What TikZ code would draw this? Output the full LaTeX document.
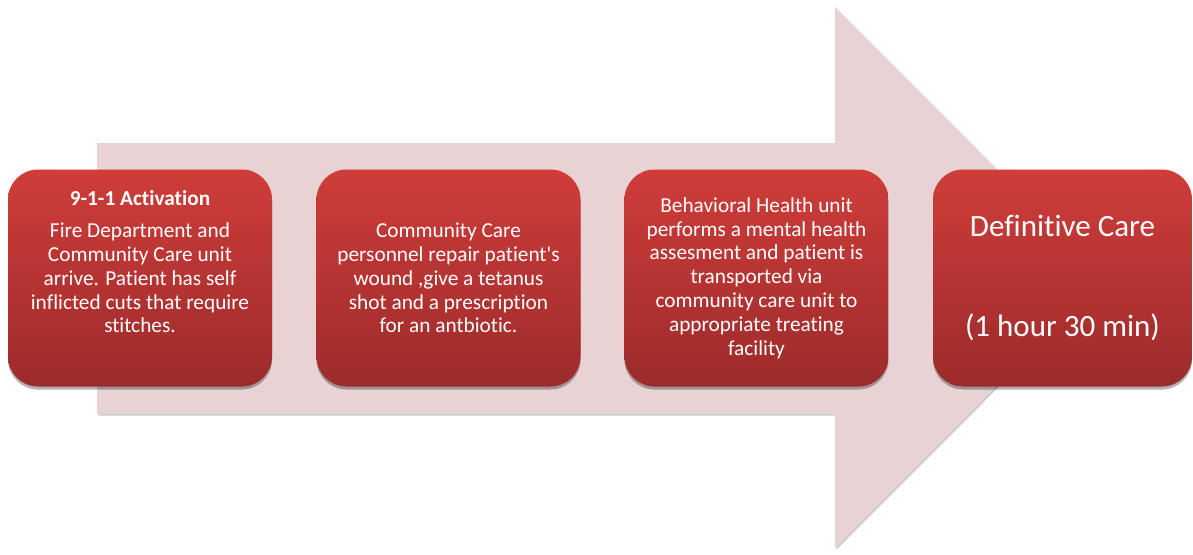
\documentclass[tikz,border=0pt]{standalone}
\usepackage{fontspec}
\setmainfont[Ligatures={NoCommon}]{Carlito}
\usetikzlibrary{shadows}
\definecolor{arrowfill}{HTML}{E8D2D3}
\definecolor{boxtop}{HTML}{CF3D3A}
\definecolor{boxbot}{HTML}{9C2B2B}
\begin{document}
\begin{tikzpicture}[x=1pt,y=-1pt,
  stepbox/.style={rounded corners=30pt, top color=boxtop, bottom color=boxbot,
    draw=none, minimum width=264pt, minimum height=217pt, inner sep=0pt,
    text=white, align=center, font=\fontsize{21.3}{23.8}\selectfont,
    drop shadow={shadow xshift=0pt, shadow yshift=-3pt, opacity=0.3, fill=black}},
  bigarrow/.style={fill=arrowfill, draw=none,
    drop shadow={shadow xshift=1.5pt, shadow yshift=-1.5pt, opacity=0.2, fill=black}},
  titletext/.style={text=white, font=\bfseries\fontsize{21.3}{24}\selectfont}
]
\useasboundingbox (0,0) rectangle (1193,554);
\fill[white] (0,0) rectangle (1193,554);
\path[bigarrow] (97,143) -- (835,143) -- (835,7) -- (1105,277.5) -- (835,548) -- (835,414) -- (97,414) -- cycle;

\node[stepbox] (b1) at (140,278) {Fire Department and\\Community Care unit\\arrive. Patient has self\\inflicted cuts that require\\stitches.};
\node[titletext] (t1) at (140,198) {9-1-1 Activation};

\node[stepbox] (b2) at (448.5,278) {Community Care\\personnel repair patient\textquotesingle s\\wound ,give a tetanus\\shot and a prescription\\for an antbiotic.};

\node[stepbox] (b3) at (756.5,278) {Behavioral Health unit\\performs a mental health\\assesment and patient is\\transported via\\community care unit to\\appropriate treating\\facility};

\node[stepbox, minimum width=259pt, font=\fontsize{31}{36}\selectfont] (b4) at (1062.5,278) {Definitive Care\\[64pt](1 hour 30 min)};
\end{tikzpicture}
\end{document}
